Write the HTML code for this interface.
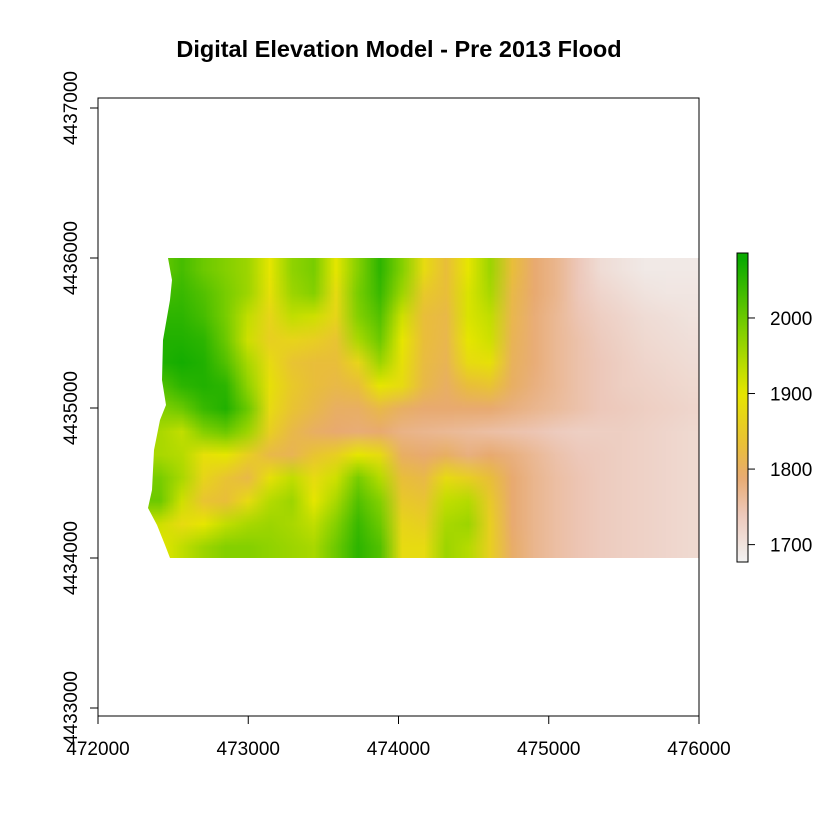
<!DOCTYPE html>
<html><head><meta charset="utf-8"><style>
body{margin:0;background:#fff;}
#wrap{position:relative;width:840px;height:840px;font-family:"Liberation Sans",sans-serif;}
svg{position:absolute;left:0;top:0;}
#dem{position:absolute;left:148px;top:258px;width:551px;height:300px;image-rendering:auto;
clip-path:polygon(20px 0,24px 22px,22px 42px,15px 82px,14px 122px,18px 147px,12px 162px,6px 192px,4px 232px,0 250px,9px 267px,17px 287px,22px 300px,551px 300px,551px 0);}
</style></head><body>
<div id="wrap">
<canvas id="dem" width="25" height="13"></canvas>
<svg id="svg" width="840" height="840"></svg>
</div>
<script>
const xTicks=[472000,473000,474000,475000,476000];
const yTicks=[4433000,4434000,4435000,4436000,4437000];
const cbTicks=[1700,1800,1900,2000];
const cbMin=1677, cbMax=2086;
const elev=[
[2000,2030,2000,1980,1960,1900,1970,1990,1900,1980,2050,1980,1880,1830,1900,1960,1830,1790,1770,1740,1710,1700,1690,1690,1690],
[2030,2040,2020,1990,1960,1890,1960,1980,1880,1990,2040,1960,1850,1830,1910,1950,1820,1790,1770,1740,1720,1710,1700,1695,1695],
[2050,2050,2030,1990,1930,1870,1930,1920,1870,1980,2020,1920,1830,1820,1910,1930,1815,1785,1765,1745,1730,1720,1710,1705,1700],
[2060,2060,2050,2000,1920,1860,1870,1860,1840,1950,2000,1900,1830,1815,1900,1920,1810,1785,1765,1750,1735,1725,1715,1710,1705],
[2060,2070,2060,2020,1950,1880,1840,1830,1830,1870,1960,1890,1825,1810,1880,1890,1805,1785,1765,1750,1740,1730,1720,1715,1710],
[2020,2050,2060,2050,1970,1890,1850,1830,1820,1830,1900,1880,1820,1800,1830,1840,1800,1780,1765,1750,1740,1730,1725,1720,1715],
[1980,2000,2040,2060,2000,1880,1840,1820,1800,1800,1820,1800,1790,1790,1790,1790,1780,1770,1760,1750,1740,1735,1730,1725,1720],
[1950,1930,1980,2000,1960,1860,1820,1800,1790,1785,1790,1775,1770,1765,1760,1755,1750,1745,1735,1730,1730,1730,1725,1720,1715],
[1950,1940,1890,1900,1860,1820,1810,1840,1860,1900,1880,1800,1790,1800,1780,1790,1780,1765,1750,1740,1735,1730,1725,1720,1715],
[1990,1950,1870,1840,1820,1890,1930,1880,1920,1990,1940,1830,1820,1880,1860,1830,1790,1770,1755,1745,1735,1730,1725,1720,1715],
[2000,1920,1840,1830,1880,1940,1960,1900,1950,2020,1980,1850,1840,1930,1940,1850,1790,1770,1755,1745,1735,1730,1725,1720,1715],
[1920,1880,1900,1930,1950,1960,1950,1930,1980,2040,2000,1870,1860,1950,1960,1860,1790,1770,1755,1745,1735,1730,1725,1720,1715],
[1900,1930,1960,1980,1980,1970,1960,1950,2000,2050,2020,1880,1880,1960,1940,1860,1795,1770,1755,1745,1735,1730,1725,1720,1715]
];
const stopsV=[1677,1740,1790,1830,1900,1990,2086];
const stopsC=[[242,242,242],[237,200,186],[232,170,112],[233,190,58],[230,230,0],[120,205,0],[0,166,0]];
function color(v){
  if(v<=stopsV[0])return stopsC[0];
  for(let i=1;i<stopsV.length;i++){if(v<=stopsV[i]){const t=(v-stopsV[i-1])/(stopsV[i]-stopsV[i-1]);
    return stopsC[i-1].map((c,k)=>Math.round(c+(stopsC[i][k]-c)*t));}}
  return stopsC[stopsC.length-1];
}
const xs=v=>98+(v-472000)*601/4000;
const ys=v=>708-(v-4433000)*150/1000;
const cs=v=>562-(v-cbMin)*309/(cbMax-cbMin);
const cv=document.getElementById('dem'),ctx=cv.getContext('2d');
const img=ctx.createImageData(25,13);
elev.forEach((row,j)=>row.forEach((v,i)=>{const c=color(v),o=(j*25+i)*4;img.data[o]=c[0];img.data[o+1]=c[1];img.data[o+2]=c[2];img.data[o+3]=255;}));
ctx.putImageData(img,0,0);
const svg=document.getElementById('svg');const NS='http://www.w3.org/2000/svg';
function mk(t,a,p){const e=document.createElementNS(NS,t);for(const k in a)e.setAttribute(k,a[k]);(p||svg).appendChild(e);return e;}
const defs=mk('defs',{});const lg=mk('linearGradient',{id:'cbg',x1:0,y1:1,x2:0,y2:0},defs);
for(let v=cbMin;v<=cbMax;v+=10){const c=color(v);mk('stop',{offset:(v-cbMin)/(cbMax-cbMin),'stop-color':`rgb(${c})`},lg);}
let t=mk('text',{x:399,y:57,'text-anchor':'middle','font-size':'23.5','font-weight':'bold'});t.textContent='Digital Elevation Model - Pre 2013 Flood';

let b=mk('rect',{x:98,y:98,width:601,height:618,fill:'none',stroke:'#000','stroke-width':1});

xTicks.forEach(v=>{const x=xs(v);
  const l=mk('line',{x1:x,x2:x,y1:716,y2:724,stroke:'#000'});
  const tx=mk('text',{x:x,y:755,'text-anchor':'middle','font-size':'19'});tx.textContent=v;
  });
yTicks.forEach(v=>{const y=ys(v);
  const l=mk('line',{x1:90,x2:98,y1:y,y2:y,stroke:'#000'});
  const tx=mk('text',{x:77,y:y,'text-anchor':'middle','font-size':'19',transform:`rotate(-90 77 ${y})`});tx.textContent=v;
  });
const cb=mk('rect',{x:737,y:253,width:11,height:309,fill:'url(#cbg)',stroke:'#000','stroke-width':1});

cbTicks.forEach(v=>{const y=cs(v);
  const l=mk('line',{x1:748,x2:755,y1:y,y2:y,stroke:'#000'});
  const tx=mk('text',{x:770,y:y+7,'font-size':'19'});tx.textContent=v;
  });
</script>
</body></html>
